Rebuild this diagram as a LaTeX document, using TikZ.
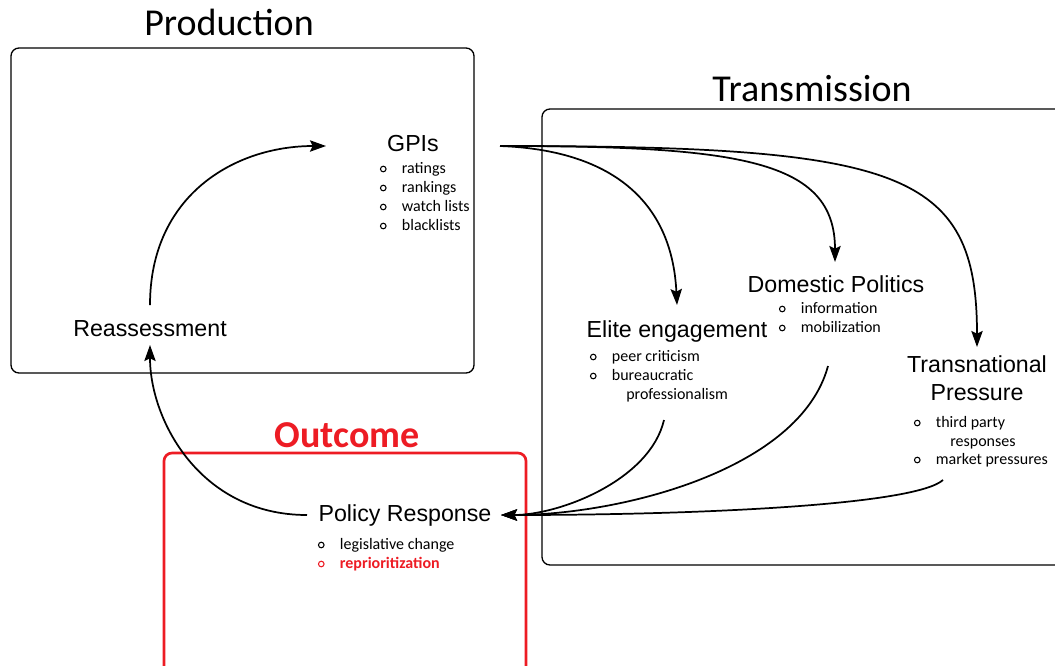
\documentclass[tikz,border=0pt]{standalone}
\usepackage{fontspec}
\setmainfont{Carlito}
\newfontfamily\arialfont{Liberation Sans}
\usetikzlibrary{arrows.meta}
\definecolor{outred}{RGB}{237,28,36}
\newcommand\bul{\makebox[0pt][c]{\raisebox{0.5pt}{\tikz\draw[draw=.,line width=0.8pt] (0,0) circle (2.1pt);}}\hspace{14pt}}

\begin{document}
\begin{tikzpicture}[x=0.75pt,y=-0.75pt,
  title/.style={anchor=base,inner sep=0,font=\fontsize{28.5}{30}\selectfont},
  head/.style={anchor=base,inner sep=0,font=\arialfont\fontsize{17.4}{21}\selectfont},
  item/.style={anchor=base west,inner sep=0,font=\fontsize{12}{14}\selectfont},
  frame/.style={line width=1pt,rounded corners=6pt},
  arr/.style={line width=1.3pt,-{Stealth[length=12pt,width=8.5pt,inset=2pt]}},
  link/.style={line width=1.3pt}]

  \useasboundingbox (0,0) rectangle (1055,665);

  % boxes
  \draw[frame] (11,48) rectangle (474,373); %PRODUCTION
  \draw[frame] (542,109) rectangle (1075,565); %TRANSMISSION
  \draw[frame,outred,line width=2pt] (164,453) rectangle (526,690); %OUTCOME

  % box titles
  \node[title] (prodtitle) at (229,35) {Production};
  \node[title] (transtitle) at (812,101) {Transmission};
  \node[title,outred,font=\bfseries\fontsize{28.5}{30}\selectfont] (outtitle) at (347,447) {Outcome};

  % GPIs
  \node[head] (gpis) at (413,151) {GPIs};
  \node[item] (gpis1) at (383,173) {\bul ratings};
  \node[item] (gpis2) at (383,192) {\bul rankings};
  \node[item] (gpis3) at (383,211) {\bul watch lists};
  \node[item] (gpis4) at (383,230) {\bul blacklists};

  % Reassessment
  \node[head] (reas) at (150,336) {Reassessment};

  % Elite engagement
  \node[head] (elite) at (677,337) {Elite engagement};
  \node[item] (elite1) at (593,361) {\bul peer criticism};
  \node[item] (elite2) at (593,380) {\bul bureaucratic};
  \node[item] (elite3) at (626,399) {professionalism};

  % Domestic Politics
  \node[head] (dom) at (836,292) {Domestic Politics};
  \node[item] (dom1) at (782,313) {\bul information};
  \node[item] (dom2) at (782,332) {\bul mobilization};

  % Transnational Pressure
  \node[head] (trans) at (977,372) {Transnational};
  \node[head] (trans2) at (977,400) {Pressure};
  \node[item] (trans3) at (917,427) {\bul third party};
  \node[item] (trans4) at (950,446) {responses};
  \node[item] (trans5) at (917,464) {\bul market pressures};

  % Policy Response
  \node[head] (pol) at (405,521) {Policy Response};
  \node[item] (pol1) at (321,549) {\bul legislative change};
  \node[item,outred,font=\bfseries\fontsize{12}{14}\selectfont] (pol2) at (321,568) {\bul reprioritization};

  % ends of the connectors
  \coordinate (reas-up) at (150,305);
  \coordinate (reas-in) at (150,345);
  \coordinate (gpis-in) at (326,146);
  \coordinate (gpis-out) at (500,146);
  \coordinate (elite-in) at (677,305);
  \coordinate (elite-out) at (664,420);
  \coordinate (dom-in) at (835,262);
  \coordinate (dom-out) at (828,366);
  \coordinate (trans-in) at (977,347);
  \coordinate (trans-out) at (943,480);
  \coordinate (pol-in) at (501,515);
  \coordinate (pol-out) at (307,515);

  % arrows
  \draw[arr] (reas-up) .. controls (150,195) and (235,146) .. (gpis-in); %CIKEL-ZGORAJ
  \draw[arr] (gpis-out) .. controls (610,150) and (672,200) .. (elite-in);
  \draw[arr] (gpis-out) .. controls (740,146) and (835,160) .. (dom-in);
  \draw[arr] (gpis-out) .. controls (900,146) and (977,170) .. (trans-in);
  \draw[arr] (elite-out) .. controls (650,480) and (560,515) .. (pol-in);
  \draw[arr] (dom-out) .. controls (800,470) and (620,515) .. (pol-in);
  \draw[arr] (trans-out) .. controls (915,505) and (700,515) .. (pol-in);
  \draw[arr] (pol-out) .. controls (200,515) and (150,420) .. (reas-in); %CIKEL-SPODAJ

\end{tikzpicture}
\end{document}
